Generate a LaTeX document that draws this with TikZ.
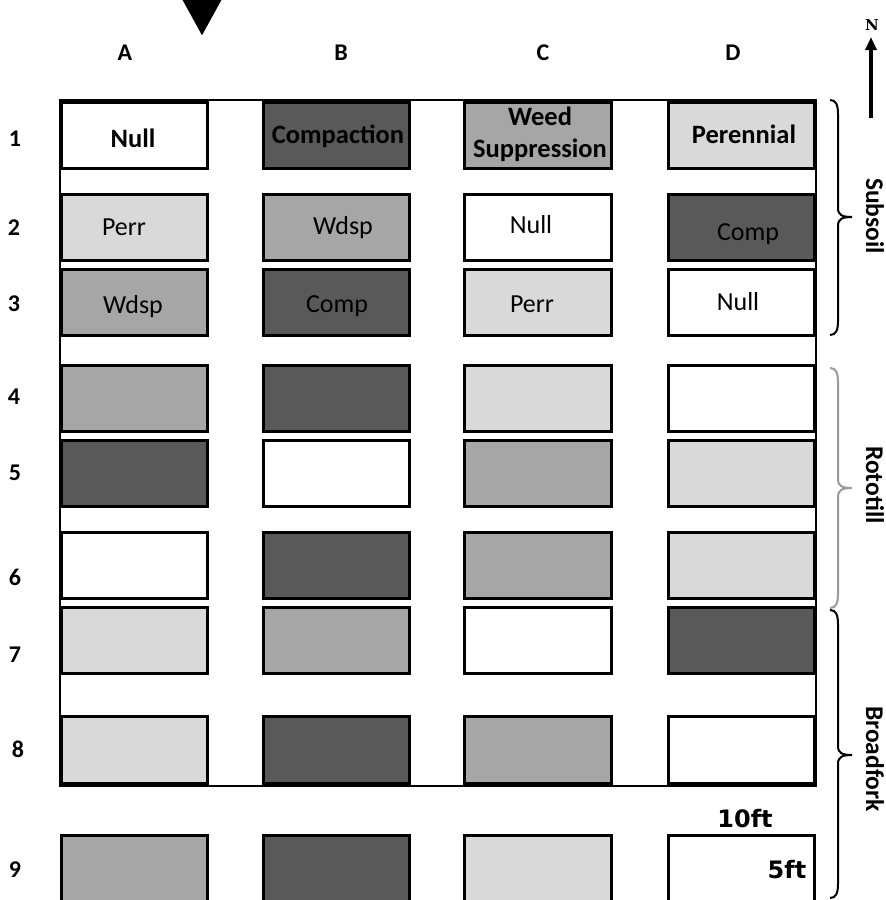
\documentclass[tikz,border=0pt]{standalone}
\usepackage{fontspec}
\setmainfont{Carlito}
\newfontfamily\ftfont{DejaVu Sans}
\newfontfamily\nfont{DejaVu Serif}
\usetikzlibrary{arrows.meta}
\definecolor{lg}{HTML}{D9D9D9}
\definecolor{mg}{HTML}{A6A6A6}
\definecolor{dg}{HTML}{595959}
\definecolor{bracegray}{HTML}{9A9A9A}
\newcommand\mybrace[4]{%
  \draw[line width=2pt,#4] (830,#1) .. controls (836,#1) and (838,#1+5) .. (838,#1+14)
    -- (838,#2-9) .. controls (838,#2-2) and (842,#2) .. (852,#2);
  \draw[line width=2pt,#4] (830,#3) .. controls (836,#3) and (838,#3-5) .. (838,#3-14)
    -- (838,#2+9) .. controls (838,#2+2) and (842,#2) .. (852,#2);}
\begin{document}
\begin{tikzpicture}[x=1pt,y=-1pt,
  plotbox/.style={draw=black,line width=2.6pt,minimum width=146.5pt,minimum height=66.5pt,inner sep=0pt,outer sep=0pt},
  celltxt/.style={anchor=base,inner sep=0pt,font=\fontsize{26}{30}\selectfont},
  boldtxt/.style={anchor=base,inner sep=0pt,font=\fontsize{26.5}{30}\selectfont\bfseries},
  collbl/.style={anchor=base,inner sep=0pt,font=\fontsize{24}{28}\selectfont\bfseries},
  rowlbl/.style={anchor=base,inner sep=0pt,font=\fontsize{24}{28}\selectfont\bfseries},
  grplbl/.style={rotate=-90,inner sep=0pt,font=\fontsize{25.5}{30}\selectfont\bfseries}]
\useasboundingbox (0,0) rectangle (886,900);
\clip (0,0) rectangle (886,900);
\fill[white] (0,0) rectangle (886,900);
% outline of the plot area
\draw[line width=1.2pt] (60,100) rectangle (816,786);
% plots
\foreach \r/\y/\fa/\fb/\fc/\fd in {1/135.5/white/dg/mg/lg,2/227.5/lg/mg/white/dg,3/302.5/mg/dg/lg/white,4/398.5/mg/dg/lg/white,5/473.5/dg/white/mg/lg,6/565.5/white/dg/mg/lg,7/640.5/lg/mg/white/dg,8/750/lg/dg/mg/white,9/868.5/mg/dg/lg/white}{
  \node[plotbox,fill=\fa] (A\r) at (134.5,\y) {};
  \node[plotbox,fill=\fb] (B\r) at (336.5,\y) {};
  \node[plotbox,fill=\fc] (C\r) at (538,\y) {};
  \node[plotbox,fill=\fd] (D\r) at (741.5,\y) {};
}
% texts in plots
\node[boldtxt] (tA1) at (133,147) {Null};
\node[boldtxt] (tB1) at (338,143) {Compaction};
\node[boldtxt] (tC1a) at (540,125) {Weed};
\node[boldtxt] (tC1b) at (540,157) {Suppression};
\node[boldtxt] (tD1) at (744,143) {Perennial};
\node[celltxt] (tA2) at (124,235) {Perr};
\node[celltxt] (tB2) at (343,234) {Wdsp};
\node[celltxt] (tC2) at (531,233) {Null};
\node[celltxt] (tD2) at (748,240) {Comp};
\node[celltxt] (tA3) at (133,313) {Wdsp};
\node[celltxt] (tB3) at (337,312) {Comp};
\node[celltxt] (tC3) at (532,312) {Perr};
\node[celltxt] (tD3) at (738,310) {Null};
% column labels
\node[collbl] (cA) at (125,60) {A};
\node[collbl] (cB) at (341,60) {B};
\node[collbl] (cC) at (543,60) {C};
\node[collbl] (cD) at (733,60) {D};
% row labels
\node[rowlbl] (r1) at (15,146) {1};
\node[rowlbl] (r2) at (14,235) {2};
\node[rowlbl] (r3) at (14,311) {3};
\node[rowlbl] (r4) at (14,404) {4};
\node[rowlbl] (r5) at (15,480) {5};
\node[rowlbl] (r6) at (15,585) {6};
\node[rowlbl] (r7) at (15,662) {7};
\node[rowlbl] (r8) at (18,757) {8};
\node[rowlbl] (r9) at (15,877) {9};
% dimensions
\node[anchor=base,inner sep=0pt,font=\fontsize{24}{28}\selectfont\ftfont\bfseries] (ten) at (745,827) {10ft};
\node[anchor=base,inner sep=0pt,font=\fontsize{24}{28}\selectfont\ftfont\bfseries] (five) at (787,878) {5ft};
% top arrow
\coordinate (topS) at (202,-40);
\coordinate (topE) at (202,36);
\draw[line width=11pt,-{Triangle[width=36pt,length=36pt]}] (topS) -- (topE);
% north arrow
\coordinate (nS) at (871,118);
\coordinate (nE) at (871,37);
\draw[line width=4.5pt,-{Triangle[width=11pt,length=13pt]}] (nS) -- (nE);
\node[anchor=base,inner sep=0pt,font=\fontsize{15}{18}\selectfont\nfont\bfseries] (N) at (872,30) {N};
% braces
\mybrace{100}{217}{335}{black}
\mybrace{368}{488}{608}{bracegray}
\mybrace{610}{755}{898}{black}
\node[grplbl] (gS) at (875,216) {Subsoil};
\node[grplbl] (gR) at (875,485) {Rototill};
\node[grplbl] (gB) at (875,759) {Broadfork};
\end{tikzpicture}
\end{document}
